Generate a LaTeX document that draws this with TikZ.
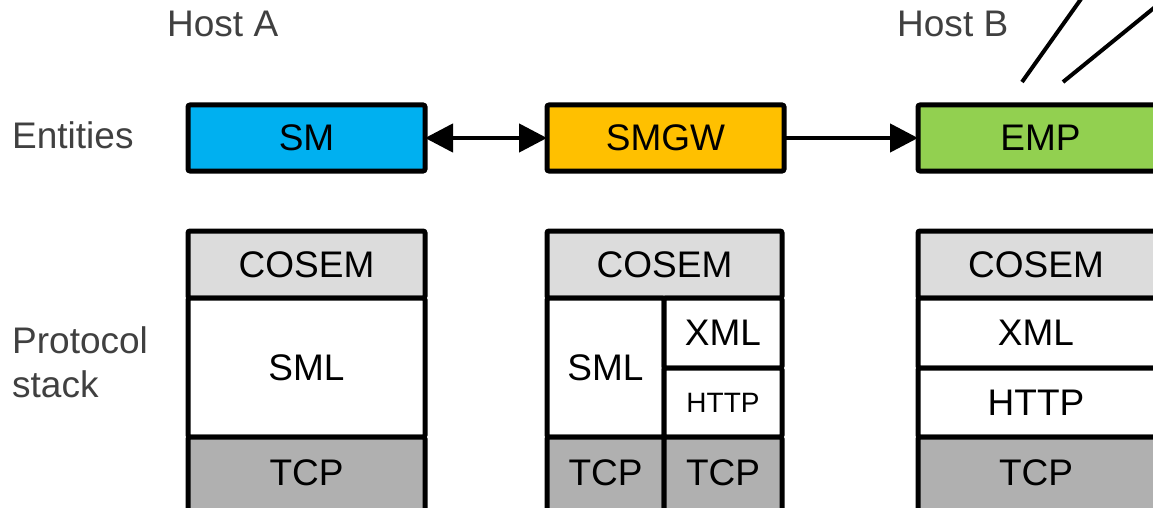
\documentclass[tikz,border=0pt]{standalone}
\usepackage{fontspec}
\setmainfont{Liberation Sans}
\usetikzlibrary{arrows.meta}

\definecolor{labelgrey}{HTML}{404040}
\definecolor{smblue}{HTML}{00B0F0}
\definecolor{gworange}{HTML}{FFC000}
\definecolor{empgreen}{HTML}{92D050}
\definecolor{lightlayer}{HTML}{DCDCDC}
\definecolor{darklayer}{HTML}{B0B0B0}

\tikzset{
  big/.style={font=\fontsize{37}{44}\selectfont},
  sidelabel/.style={big, text=labelgrey, anchor=base west, inner sep=0pt},
  box/.style={draw=black, line width=5pt, rounded corners=2pt, outer sep=0pt,
    inner sep=0pt, anchor=north west, big, text=black},
  entity/.style={box, minimum width=237pt, minimum height=66pt},
  layer/.style={box},
  link/.style={line width=4.5pt, -{Triangle[length=28pt,width=28pt]}},
  wire/.style={line width=4pt}
}

\begin{document}
\begin{tikzpicture}[x=1pt,y=-1pt]
\useasboundingbox (0,0) rectangle (1153,508);
\begin{scope}
\clip (0,0) rectangle (1153,508);

% side labels
\node[sidelabel] (hosta) at (167,37) {Host A};
\node[sidelabel] (hostb) at (897,37) {Host B};
\node[sidelabel] (ent) at (12,148) {Entities};
\node[sidelabel] (proto) at (12,353) {Protocol};
\node[sidelabel] (stk) at (12,397) {stack};

% entities
\node[entity, fill=smblue] (sm) at (188,105) {SM};
\node[entity, fill=gworange] (smgw) at (547,105) {SMGW};
\node[entity, fill=empgreen, minimum width=245pt] (emp) at (918,105) {EMP};

\draw[link, {Triangle[length=28pt,width=28pt]}-{Triangle[length=28pt,width=28pt]}] (sm.east) -- (smgw.west);
\draw[link] (smgw.east) -- (emp.west);

% lines leaving host B
\coordinate (l1a) at (1022,82);
\coordinate (l1b) at (1081,-1);
\coordinate (l2a) at (1063,82);
\coordinate (l2b) at (1160,3);
\draw[wire] (l1a) -- (l1b);
\draw[wire] (l2a) -- (l2b);

% stack of host A
\node[layer, fill=lightlayer, minimum width=237pt, minimum height=67pt] (acosem) at (188,231) {COSEM};
\node[layer, fill=white, minimum width=237pt, minimum height=139pt] (asml) at (188,298) {SML};
\node[layer, fill=darklayer, minimum width=237pt, minimum height=90pt] (atcp) at (188,437) {\raisebox{18pt}{TCP}};

% stack of the gateway
\node[layer, fill=lightlayer, minimum width=235pt, minimum height=67pt] (gcosem) at (547,231) {COSEM};
\node[layer, fill=white, minimum width=117pt, minimum height=139pt] (gsml) at (547,298) {SML};
\node[layer, fill=white, minimum width=118pt, minimum height=70pt] (gxml) at (664,298) {XML};
\node[layer, fill=white, minimum width=118pt, minimum height=69pt, font=\fontsize{28}{34}\selectfont] (ghttp) at (664,368) {HTTP};
\node[layer, fill=darklayer, minimum width=117pt, minimum height=90pt] (gtcp1) at (547,437) {\raisebox{18pt}{TCP}};
\node[layer, fill=darklayer, minimum width=118pt, minimum height=90pt] (gtcp2) at (664,437) {\raisebox{18pt}{TCP}};

% stack of the EMP
\node[layer, fill=lightlayer, minimum width=240pt, minimum height=67pt] (ecosem) at (918,231) {COSEM\hspace*{4pt}};
\node[layer, fill=white, minimum width=240pt, minimum height=70pt] (exml) at (918,298) {XML\hspace*{4pt}};
\node[layer, fill=white, minimum width=240pt, minimum height=69pt] (ehttp) at (918,368) {HTTP\hspace*{4pt}};
\node[layer, fill=darklayer, minimum width=240pt, minimum height=90pt] (etcp) at (918,437) {\raisebox{18pt}{TCP}\hspace*{4pt}};
\end{scope}
\end{tikzpicture}
\end{document}
